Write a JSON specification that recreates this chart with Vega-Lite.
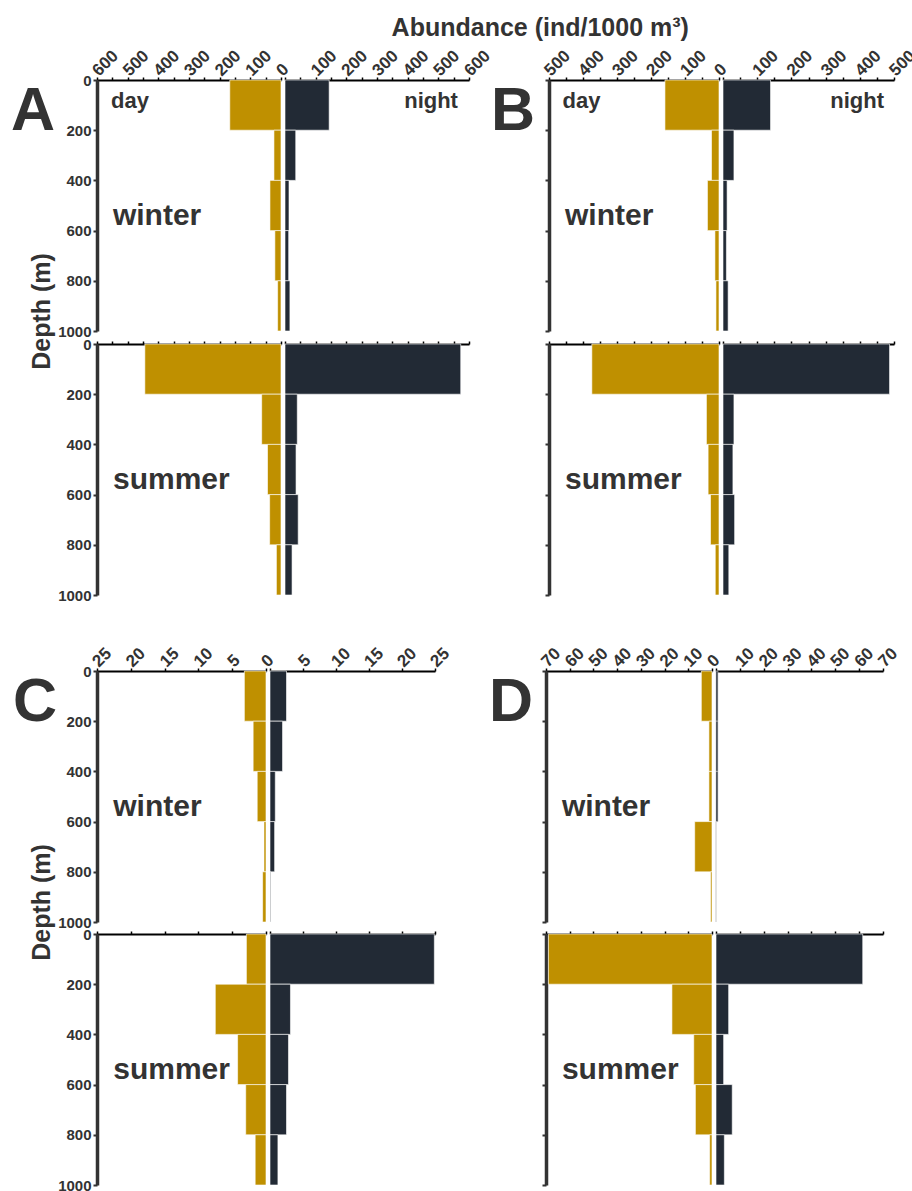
{
"$schema": "https://vega.github.io/schema/vega-lite/v6.json",
"padding": {"left": 8, "top": 15, "right": 0, "bottom": 0},
"title": {"text": "Abundance (ind/1000 m³)", "anchor": "middle", "fontSize": 25, "offset": 6, "dx": 77},
"datasets": {"d": [
{"p":"A","s":"w","t":"day","y0":0,"y1":200,"v":167},{"p":"A","s":"w","t":"day","y0":200,"y1":400,"v":23},{"p":"A","s":"w","t":"day","y0":400,"y1":600,"v":36},{"p":"A","s":"w","t":"day","y0":600,"y1":800,"v":20},{"p":"A","s":"w","t":"day","y0":800,"y1":1000,"v":11},
{"p":"A","s":"w","t":"night","y0":0,"y1":200,"v":144},{"p":"A","s":"w","t":"night","y0":200,"y1":400,"v":35},{"p":"A","s":"w","t":"night","y0":400,"y1":600,"v":13},{"p":"A","s":"w","t":"night","y0":600,"y1":800,"v":12},{"p":"A","s":"w","t":"night","y0":800,"y1":1000,"v":16},
{"p":"A","s":"s","t":"day","y0":0,"y1":200,"v":444},{"p":"A","s":"s","t":"day","y0":200,"y1":400,"v":63},{"p":"A","s":"s","t":"day","y0":400,"y1":600,"v":44},{"p":"A","s":"s","t":"day","y0":600,"y1":800,"v":37},{"p":"A","s":"s","t":"day","y0":800,"y1":1000,"v":15},
{"p":"A","s":"s","t":"night","y0":0,"y1":200,"v":573},{"p":"A","s":"s","t":"night","y0":200,"y1":400,"v":40},{"p":"A","s":"s","t":"night","y0":400,"y1":600,"v":36},{"p":"A","s":"s","t":"night","y0":600,"y1":800,"v":43},{"p":"A","s":"s","t":"night","y0":800,"y1":1000,"v":23},
{"p":"B","s":"w","t":"day","y0":0,"y1":200,"v":159},{"p":"B","s":"w","t":"day","y0":200,"y1":400,"v":22},{"p":"B","s":"w","t":"day","y0":400,"y1":600,"v":34},{"p":"B","s":"w","t":"day","y0":600,"y1":800,"v":12},{"p":"B","s":"w","t":"day","y0":800,"y1":1000,"v":9},
{"p":"B","s":"w","t":"night","y0":0,"y1":200,"v":139},{"p":"B","s":"w","t":"night","y0":200,"y1":400,"v":32},{"p":"B","s":"w","t":"night","y0":400,"y1":600,"v":12},{"p":"B","s":"w","t":"night","y0":600,"y1":800,"v":10},{"p":"B","s":"w","t":"night","y0":800,"y1":1000,"v":15},
{"p":"B","s":"s","t":"day","y0":0,"y1":200,"v":374},{"p":"B","s":"s","t":"day","y0":200,"y1":400,"v":37},{"p":"B","s":"s","t":"day","y0":400,"y1":600,"v":32},{"p":"B","s":"s","t":"day","y0":600,"y1":800,"v":25},{"p":"B","s":"s","t":"day","y0":800,"y1":1000,"v":11},
{"p":"B","s":"s","t":"night","y0":0,"y1":200,"v":487},{"p":"B","s":"s","t":"night","y0":200,"y1":400,"v":32},{"p":"B","s":"s","t":"night","y0":400,"y1":600,"v":29},{"p":"B","s":"s","t":"night","y0":600,"y1":800,"v":34},{"p":"B","s":"s","t":"night","y0":800,"y1":1000,"v":17},
{"p":"C","s":"w","t":"day","y0":0,"y1":200,"v":3.2},{"p":"C","s":"w","t":"day","y0":200,"y1":400,"v":1.9},{"p":"C","s":"w","t":"day","y0":400,"y1":600,"v":1.3},{"p":"C","s":"w","t":"day","y0":600,"y1":800,"v":0.3},{"p":"C","s":"w","t":"day","y0":800,"y1":1000,"v":0.5},
{"p":"C","s":"w","t":"night","y0":0,"y1":200,"v":2.5},{"p":"C","s":"w","t":"night","y0":200,"y1":400,"v":1.9},{"p":"C","s":"w","t":"night","y0":400,"y1":600,"v":0.8},{"p":"C","s":"w","t":"night","y0":600,"y1":800,"v":0.7},{"p":"C","s":"w","t":"night","y0":800,"y1":1000,"v":0.1},
{"p":"C","s":"s","t":"day","y0":0,"y1":200,"v":2.9},{"p":"C","s":"s","t":"day","y0":200,"y1":400,"v":7.5},{"p":"C","s":"s","t":"day","y0":400,"y1":600,"v":4.2},{"p":"C","s":"s","t":"day","y0":600,"y1":800,"v":3.0},{"p":"C","s":"s","t":"day","y0":800,"y1":1000,"v":1.6},
{"p":"C","s":"s","t":"night","y0":0,"y1":200,"v":24.9},{"p":"C","s":"s","t":"night","y0":200,"y1":400,"v":3.1},{"p":"C","s":"s","t":"night","y0":400,"y1":600,"v":2.8},{"p":"C","s":"s","t":"night","y0":600,"y1":800,"v":2.5},{"p":"C","s":"s","t":"night","y0":800,"y1":1000,"v":1.2},
{"p":"D","s":"w","t":"day","y0":0,"y1":200,"v":4.5},{"p":"D","s":"w","t":"day","y0":200,"y1":400,"v":1.3},{"p":"D","s":"w","t":"day","y0":400,"y1":600,"v":1.3},{"p":"D","s":"w","t":"day","y0":600,"y1":800,"v":7.3},{"p":"D","s":"w","t":"day","y0":800,"y1":1000,"v":0.6},
{"p":"D","s":"w","t":"night","y0":0,"y1":200,"v":0.8},{"p":"D","s":"w","t":"night","y0":200,"y1":400,"v":0.8},{"p":"D","s":"w","t":"night","y0":400,"y1":600,"v":0.8},{"p":"D","s":"w","t":"night","y0":600,"y1":800,"v":0},{"p":"D","s":"w","t":"night","y0":800,"y1":1000,"v":0},
{"p":"D","s":"s","t":"day","y0":0,"y1":200,"v":69},{"p":"D","s":"s","t":"day","y0":200,"y1":400,"v":16.9},{"p":"D","s":"s","t":"day","y0":400,"y1":600,"v":7.7},{"p":"D","s":"s","t":"day","y0":600,"y1":800,"v":7.0},{"p":"D","s":"s","t":"day","y0":800,"y1":1000,"v":1.0},
{"p":"D","s":"s","t":"night","y0":0,"y1":200,"v":61.5},{"p":"D","s":"s","t":"night","y0":200,"y1":400,"v":5.3},{"p":"D","s":"s","t":"night","y0":400,"y1":600,"v":3.2},{"p":"D","s":"s","t":"night","y0":600,"y1":800,"v":6.8},{"p":"D","s":"s","t":"night","y0":800,"y1":1000,"v":3.5}
]},
"bounds": "flush",
"spacing": 0,
"vconcat": [
{"bounds": "flush", "spacing": 4, "hconcat": [
{"width": 82, "height": 251, "title": {"text": "A", "anchor": "start", "baseline": "top", "offset": -63, "fontSize": 61, "dx": 0}, "data": {"values": [{}]}, "mark": {"type": "point", "opacity": 0}, "encoding": {}},
{"width": 184, "height": 251, "resolve": {"axis": {"x": "independent", "y": "independent"}}, "layer": [
 {"data": {"name": "d"}, "transform": [{"filter": "datum.p=='A' && datum.s=='w' && datum.t=='day'"}],
  "mark": {"type": "rect", "color": "#BF9000", "stroke": "#ffffff", "strokeWidth": 0.6},
  "encoding": {
   "y": {"field": "y0", "type": "quantitative", "scale": {"domain": [0, 1000], "reverse": true, "nice": false}, "axis": {"title": "Depth (m)", "values": [0,200,400,600,800,1000], "format": "d", "labelOverlap": false, "labelFlush": false, "titleAngle": -90, "titleX": -48, "titleY": 231, "titleAlign": "center", "titleBaseline": "alphabetic"}},
   "y2": {"field": "y1"},
   "x": {"field": "v", "type": "quantitative", "scale": {"domain": [0, 600], "reverse": true, "nice": false}, "axis": {"title": null, "orient": "top", "labelOverlap": false, "labelFlush": false, "values": [0,50,100,150,200,250,300,350,400,450,500,550,600], "labelExpr": "datum.value % 100 == 0 ? datum.label : ''"}},
   "x2": {"datum": 0}}},
 {"data": {"values": [{}]}, "mark": {"type": "text", "text": "winter", "align": "left", "baseline": "alphabetic", "fontSize": 30}, "encoding": {"x": {"datum": 548, "axis": null}, "y": {"datum": 576, "axis": null}}},
 {"data": {"values": [{}]}, "mark": {"type": "text", "text": "day", "align": "left", "baseline": "alphabetic", "fontSize": 22}, "encoding": {"x": {"datum": 554, "axis": null}, "y": {"datum": 113, "axis": null}}}
]},
{"width": 184, "height": 251, "resolve": {"axis": {"x": "independent", "y": "independent"}}, "layer": [
 {"data": {"name": "d"}, "transform": [{"filter": "datum.p=='A' && datum.s=='w' && datum.t=='night'"}],
  "mark": {"type": "rect", "color": "#222A35", "stroke": "#ffffff", "strokeWidth": 0.6},
  "encoding": {
   "y": {"field": "y0", "type": "quantitative", "scale": {"domain": [0, 1000], "reverse": true, "nice": false}, "axis": null},
   "y2": {"field": "y1"},
   "x": {"field": "v", "type": "quantitative", "scale": {"domain": [0, 600], "nice": false}, "axis": {"title": null, "orient": "top", "labelOverlap": false, "labelFlush": false, "values": [0,50,100,150,200,250,300,350,400,450,500,550,600], "labelExpr": "datum.value > 0 && datum.value % 100 == 0 ? datum.label : ''"}},
   "x2": {"datum": 0}}},
 {"data": {"values": [{}]}, "mark": {"type": "text", "text": "night", "align": "right", "baseline": "alphabetic", "fontSize": 22}, "encoding": {"x": {"datum": 564, "axis": null}, "y": {"datum": 113, "axis": null}}}
]},
{"width": 72, "height": 251, "title": {"text": "B", "anchor": "start", "baseline": "top", "offset": -63, "fontSize": 61, "dx": 18}, "data": {"values": [{}]}, "mark": {"type": "point", "opacity": 0}, "encoding": {}},
{"width": 170, "height": 251, "resolve": {"axis": {"x": "independent", "y": "independent"}}, "layer": [
 {"data": {"name": "d"}, "transform": [{"filter": "datum.p=='B' && datum.s=='w' && datum.t=='day'"}],
  "mark": {"type": "rect", "color": "#BF9000", "stroke": "#ffffff", "strokeWidth": 0.6},
  "encoding": {
   "y": {"field": "y0", "type": "quantitative", "scale": {"domain": [0, 1000], "reverse": true, "nice": false}, "axis": {"title": null, "values": [0,200,400,600,800,1000], "labels": false}},
   "y2": {"field": "y1"},
   "x": {"field": "v", "type": "quantitative", "scale": {"domain": [0, 500], "reverse": true, "nice": false}, "axis": {"title": null, "orient": "top", "labelOverlap": false, "labelFlush": false, "values": [0,50,100,150,200,250,300,350,400,450,500], "labelExpr": "datum.value % 100 == 0 ? datum.label : ''"}},
   "x2": {"datum": 0}}},
 {"data": {"values": [{}]}, "mark": {"type": "text", "text": "winter", "align": "left", "baseline": "alphabetic", "fontSize": 30}, "encoding": {"x": {"datum": 453, "axis": null}, "y": {"datum": 576, "axis": null}}},
 {"data": {"values": [{}]}, "mark": {"type": "text", "text": "day", "align": "left", "baseline": "alphabetic", "fontSize": 22}, "encoding": {"x": {"datum": 460, "axis": null}, "y": {"datum": 113, "axis": null}}}
]},
{"width": 171, "height": 251, "resolve": {"axis": {"x": "independent", "y": "independent"}}, "layer": [
 {"data": {"name": "d"}, "transform": [{"filter": "datum.p=='B' && datum.s=='w' && datum.t=='night'"}],
  "mark": {"type": "rect", "color": "#222A35", "stroke": "#ffffff", "strokeWidth": 0.6},
  "encoding": {
   "y": {"field": "y0", "type": "quantitative", "scale": {"domain": [0, 1000], "reverse": true, "nice": false}, "axis": null},
   "y2": {"field": "y1"},
   "x": {"field": "v", "type": "quantitative", "scale": {"domain": [0, 500], "nice": false}, "axis": {"title": null, "orient": "top", "labelOverlap": false, "labelFlush": false, "values": [0,50,100,150,200,250,300,350,400,450,500], "labelExpr": "datum.value > 0 && datum.value % 100 == 0 ? datum.label : ''"}},
   "x2": {"datum": 0}}},
 {"data": {"values": [{}]}, "mark": {"type": "text", "text": "night", "align": "right", "baseline": "alphabetic", "fontSize": 22}, "encoding": {"x": {"datum": 471, "axis": null}, "y": {"datum": 113, "axis": null}}}
]}
]},
{"width": 1, "height": 264, "data": {"values": [{}]}, "mark": {"type": "point", "opacity": 0}, "encoding": {}},
{"bounds": "flush", "spacing": 4, "hconcat": [
{"width": 82, "height": 251, "data": {"values": [{}]}, "mark": {"type": "point", "opacity": 0}, "encoding": {}},
{"width": 184, "height": 251, "resolve": {"axis": {"x": "independent", "y": "independent"}}, "layer": [
 {"data": {"name": "d"}, "transform": [{"filter": "datum.p=='A' && datum.s=='s' && datum.t=='day'"}],
  "mark": {"type": "rect", "color": "#BF9000", "stroke": "#ffffff", "strokeWidth": 0.6},
  "encoding": {
   "y": {"field": "y0", "type": "quantitative", "scale": {"domain": [0, 1000], "reverse": true, "nice": false}, "axis": {"title": null, "values": [0,200,400,600,800,1000], "format": "d", "labelOverlap": false, "labelFlush": false}},
   "y2": {"field": "y1"},
   "x": {"field": "v", "type": "quantitative", "scale": {"domain": [0, 600], "reverse": true, "nice": false}, "axis": {"title": null, "orient": "top", "values": [0,50,100,150,200,250,300,350,400,450,500,550,600], "labels": false}},
   "x2": {"datum": 0}}},
 {"data": {"values": [{}]}, "mark": {"type": "text", "text": "summer", "align": "left", "baseline": "alphabetic", "fontSize": 30}, "encoding": {"x": {"datum": 548, "axis": null}, "y": {"datum": 576, "axis": null}}}
]},
{"width": 184, "height": 251, "data": {"name": "d"}, "transform": [{"filter": "datum.p=='A' && datum.s=='s' && datum.t=='night'"}],
 "mark": {"type": "rect", "color": "#222A35", "stroke": "#ffffff", "strokeWidth": 0.6},
 "encoding": {
  "y": {"field": "y0", "type": "quantitative", "scale": {"domain": [0, 1000], "reverse": true, "nice": false}, "axis": null},
  "y2": {"field": "y1"},
  "x": {"field": "v", "type": "quantitative", "scale": {"domain": [0, 600], "nice": false}, "axis": {"title": null, "orient": "top", "values": [0,50,100,150,200,250,300,350,400,450,500,550,600], "labels": false}},
  "x2": {"datum": 0}}},
{"width": 72, "height": 251, "data": {"values": [{}]}, "mark": {"type": "point", "opacity": 0}, "encoding": {}},
{"width": 170, "height": 251, "resolve": {"axis": {"x": "independent", "y": "independent"}}, "layer": [
 {"data": {"name": "d"}, "transform": [{"filter": "datum.p=='B' && datum.s=='s' && datum.t=='day'"}],
  "mark": {"type": "rect", "color": "#BF9000", "stroke": "#ffffff", "strokeWidth": 0.6},
  "encoding": {
   "y": {"field": "y0", "type": "quantitative", "scale": {"domain": [0, 1000], "reverse": true, "nice": false}, "axis": {"title": null, "values": [0,200,400,600,800,1000], "labels": false}},
   "y2": {"field": "y1"},
   "x": {"field": "v", "type": "quantitative", "scale": {"domain": [0, 500], "reverse": true, "nice": false}, "axis": {"title": null, "orient": "top", "values": [0,50,100,150,200,250,300,350,400,450,500], "labels": false}},
   "x2": {"datum": 0}}},
 {"data": {"values": [{}]}, "mark": {"type": "text", "text": "summer", "align": "left", "baseline": "alphabetic", "fontSize": 30}, "encoding": {"x": {"datum": 453, "axis": null}, "y": {"datum": 576, "axis": null}}}
]},
{"width": 171, "height": 251, "data": {"name": "d"}, "transform": [{"filter": "datum.p=='B' && datum.s=='s' && datum.t=='night'"}],
 "mark": {"type": "rect", "color": "#222A35", "stroke": "#ffffff", "strokeWidth": 0.6},
 "encoding": {
  "y": {"field": "y0", "type": "quantitative", "scale": {"domain": [0, 1000], "reverse": true, "nice": false}, "axis": null},
  "y2": {"field": "y1"},
  "x": {"field": "v", "type": "quantitative", "scale": {"domain": [0, 500], "nice": false}, "axis": {"title": null, "orient": "top", "values": [0,50,100,150,200,250,300,350,400,450,500], "labels": false}},
  "x2": {"datum": 0}}}
]},
{"width": 1, "height": 327, "data": {"values": [{}]}, "mark": {"type": "point", "opacity": 0}, "encoding": {}},
{"bounds": "flush", "spacing": 4, "hconcat": [
{"width": 82, "height": 251, "title": {"text": "C", "anchor": "start", "baseline": "top", "offset": -63, "fontSize": 61, "dx": 2}, "data": {"values": [{}]}, "mark": {"type": "point", "opacity": 0}, "encoding": {}},
{"width": 169, "height": 251, "resolve": {"axis": {"x": "independent", "y": "independent"}}, "layer": [
 {"data": {"name": "d"}, "transform": [{"filter": "datum.p=='C' && datum.s=='w' && datum.t=='day'"}],
  "mark": {"type": "rect", "color": "#BF9000", "stroke": "#ffffff", "strokeWidth": 0.6},
  "encoding": {
   "y": {"field": "y0", "type": "quantitative", "scale": {"domain": [0, 1000], "reverse": true, "nice": false}, "axis": {"title": "Depth (m)", "values": [0,200,400,600,800,1000], "format": "d", "labelOverlap": false, "labelFlush": false, "titleAngle": -90, "titleX": -48, "titleY": 231, "titleAlign": "center", "titleBaseline": "alphabetic"}},
   "y2": {"field": "y1"},
   "x": {"field": "v", "type": "quantitative", "scale": {"domain": [0, 25], "reverse": true, "nice": false}, "axis": {"title": null, "orient": "top", "labelOverlap": false, "labelFlush": false, "values": [0,5,10,15,20,25]}},
   "x2": {"datum": 0}}},
 {"data": {"values": [{}]}, "mark": {"type": "text", "text": "winter", "align": "left", "baseline": "alphabetic", "fontSize": 30}, "encoding": {"x": {"datum": 22.6, "axis": null}, "y": {"datum": 576, "axis": null}}}
]},
{"width": 165, "height": 251, "data": {"name": "d"}, "transform": [{"filter": "datum.p=='C' && datum.s=='w' && datum.t=='night'"}],
 "mark": {"type": "rect", "color": "#222A35", "stroke": "#ffffff", "strokeWidth": 0.6},
 "encoding": {
  "y": {"field": "y0", "type": "quantitative", "scale": {"domain": [0, 1000], "reverse": true, "nice": false}, "axis": null},
  "y2": {"field": "y1"},
  "x": {"field": "v", "type": "quantitative", "scale": {"domain": [0, 25], "nice": false}, "axis": {"title": null, "orient": "top", "labelOverlap": false, "labelFlush": false, "values": [0,5,10,15,20,25], "labelExpr": "datum.value > 0 ? datum.label : ''"}},
  "x2": {"datum": 0}}},
{"width": 103, "height": 251, "title": {"text": "D", "anchor": "start", "baseline": "top", "offset": -63, "fontSize": 61, "dx": 50}, "data": {"values": [{}]}, "mark": {"type": "point", "opacity": 0}, "encoding": {}},
{"width": 166, "height": 251, "resolve": {"axis": {"x": "independent", "y": "independent"}}, "layer": [
 {"data": {"name": "d"}, "transform": [{"filter": "datum.p=='D' && datum.s=='w' && datum.t=='day'"}],
  "mark": {"type": "rect", "color": "#BF9000", "stroke": "#ffffff", "strokeWidth": 0.6},
  "encoding": {
   "y": {"field": "y0", "type": "quantitative", "scale": {"domain": [0, 1000], "reverse": true, "nice": false}, "axis": {"title": null, "values": [0,200,400,600,800,1000], "labels": false}},
   "y2": {"field": "y1"},
   "x": {"field": "v", "type": "quantitative", "scale": {"domain": [0, 70], "reverse": true, "nice": false}, "axis": {"title": null, "orient": "top", "labelOverlap": false, "labelFlush": false, "values": [0,10,20,30,40,50,60,70]}},
   "x2": {"datum": 0}}},
 {"data": {"values": [{}]}, "mark": {"type": "text", "text": "winter", "align": "left", "baseline": "alphabetic", "fontSize": 30}, "encoding": {"x": {"datum": 63.3, "axis": null}, "y": {"datum": 576, "axis": null}}}
]},
{"width": 167, "height": 251, "data": {"name": "d"}, "transform": [{"filter": "datum.p=='D' && datum.s=='w' && datum.t=='night'"}],
 "mark": {"type": "rect", "color": "#222A35", "stroke": "#c8c8c8", "strokeWidth": 0.6},
 "encoding": {
  "y": {"field": "y0", "type": "quantitative", "scale": {"domain": [0, 1000], "reverse": true, "nice": false}, "axis": null},
  "y2": {"field": "y1"},
  "x": {"field": "v", "type": "quantitative", "scale": {"domain": [0, 70], "nice": false}, "axis": {"title": null, "orient": "top", "labelOverlap": false, "labelFlush": false, "values": [0,10,20,30,40,50,60,70], "labelExpr": "datum.value > 0 ? datum.label : ''"}},
  "x2": {"datum": 0}}}
]},
{"width": 1, "height": 263, "data": {"values": [{}]}, "mark": {"type": "point", "opacity": 0}, "encoding": {}},
{"bounds": "flush", "spacing": 4, "hconcat": [
{"width": 82, "height": 251, "data": {"values": [{}]}, "mark": {"type": "point", "opacity": 0}, "encoding": {}},
{"width": 169, "height": 251, "resolve": {"axis": {"x": "independent", "y": "independent"}}, "layer": [
 {"data": {"name": "d"}, "transform": [{"filter": "datum.p=='C' && datum.s=='s' && datum.t=='day'"}],
  "mark": {"type": "rect", "color": "#BF9000", "stroke": "#ffffff", "strokeWidth": 0.6},
  "encoding": {
   "y": {"field": "y0", "type": "quantitative", "scale": {"domain": [0, 1000], "reverse": true, "nice": false}, "axis": {"title": null, "values": [0,200,400,600,800,1000], "format": "d", "labelOverlap": false, "labelFlush": false}},
   "y2": {"field": "y1"},
   "x": {"field": "v", "type": "quantitative", "scale": {"domain": [0, 25], "reverse": true, "nice": false}, "axis": {"title": null, "orient": "top", "values": [0,5,10,15,20,25], "labels": false}},
   "x2": {"datum": 0}}},
 {"data": {"values": [{}]}, "mark": {"type": "text", "text": "summer", "align": "left", "baseline": "alphabetic", "fontSize": 30}, "encoding": {"x": {"datum": 22.6, "axis": null}, "y": {"datum": 576, "axis": null}}}
]},
{"width": 165, "height": 251, "data": {"name": "d"}, "transform": [{"filter": "datum.p=='C' && datum.s=='s' && datum.t=='night'"}],
 "mark": {"type": "rect", "color": "#222A35", "stroke": "#ffffff", "strokeWidth": 0.6},
 "encoding": {
  "y": {"field": "y0", "type": "quantitative", "scale": {"domain": [0, 1000], "reverse": true, "nice": false}, "axis": null},
  "y2": {"field": "y1"},
  "x": {"field": "v", "type": "quantitative", "scale": {"domain": [0, 25], "nice": false}, "axis": {"title": null, "orient": "top", "values": [0,5,10,15,20,25], "labels": false}},
  "x2": {"datum": 0}}},
{"width": 103, "height": 251, "data": {"values": [{}]}, "mark": {"type": "point", "opacity": 0}, "encoding": {}},
{"width": 166, "height": 251, "resolve": {"axis": {"x": "independent", "y": "independent"}}, "layer": [
 {"data": {"name": "d"}, "transform": [{"filter": "datum.p=='D' && datum.s=='s' && datum.t=='day'"}],
  "mark": {"type": "rect", "color": "#BF9000", "stroke": "#ffffff", "strokeWidth": 0.6},
  "encoding": {
   "y": {"field": "y0", "type": "quantitative", "scale": {"domain": [0, 1000], "reverse": true, "nice": false}, "axis": {"title": null, "values": [0,200,400,600,800,1000], "labels": false}},
   "y2": {"field": "y1"},
   "x": {"field": "v", "type": "quantitative", "scale": {"domain": [0, 70], "reverse": true, "nice": false}, "axis": {"title": null, "orient": "top", "values": [0,10,20,30,40,50,60,70], "labels": false}},
   "x2": {"datum": 0}}},
 {"data": {"values": [{}]}, "mark": {"type": "text", "text": "summer", "align": "left", "baseline": "alphabetic", "fontSize": 30}, "encoding": {"x": {"datum": 63.3, "axis": null}, "y": {"datum": 576, "axis": null}}}
]},
{"width": 167, "height": 251, "data": {"name": "d"}, "transform": [{"filter": "datum.p=='D' && datum.s=='s' && datum.t=='night'"}],
 "mark": {"type": "rect", "color": "#222A35", "stroke": "#ffffff", "strokeWidth": 0.6},
 "encoding": {
  "y": {"field": "y0", "type": "quantitative", "scale": {"domain": [0, 1000], "reverse": true, "nice": false}, "axis": null},
  "y2": {"field": "y1"},
  "x": {"field": "v", "type": "quantitative", "scale": {"domain": [0, 70], "nice": false}, "axis": {"title": null, "orient": "top", "values": [0,10,20,30,40,50,60,70], "labels": false}},
  "x2": {"datum": 0}}}
]}
],
"config": {
 "view": {"stroke": null},
 "font": "Liberation Sans",
 "title": {"font": "Liberation Sans", "fontWeight": "bold", "color": "#333333"},
 "text": {"font": "Liberation Sans", "fontWeight": "bold", "color": "#333333"},
 "axis": {"labelFont": "Liberation Sans", "labelFontWeight": "bold", "labelColor": "#333333", "titleFont": "Liberation Sans", "titleFontWeight": "bold", "titleColor": "#333333", "titleFontSize": 25, "grid": false, "labelOverlap": false, "labelBound": false, "labelFlush": false},
 "axisX": {"labelAngle": -45, "labelAlign": "left", "labelBaseline": "middle", "labelPadding": 4, "labelOffset": -2, "labelFontSize": 17, "tickSize": 3, "tickWidth": 1.5, "tickColor": "#000000", "domainColor": "#000000", "domainWidth": 2},
 "axisY": {"domainColor": "#333333", "domainWidth": 3.5, "tickColor": "#333333", "tickWidth": 2, "tickSize": 4, "labelPadding": 2, "labelFontSize": 15}
}
}
